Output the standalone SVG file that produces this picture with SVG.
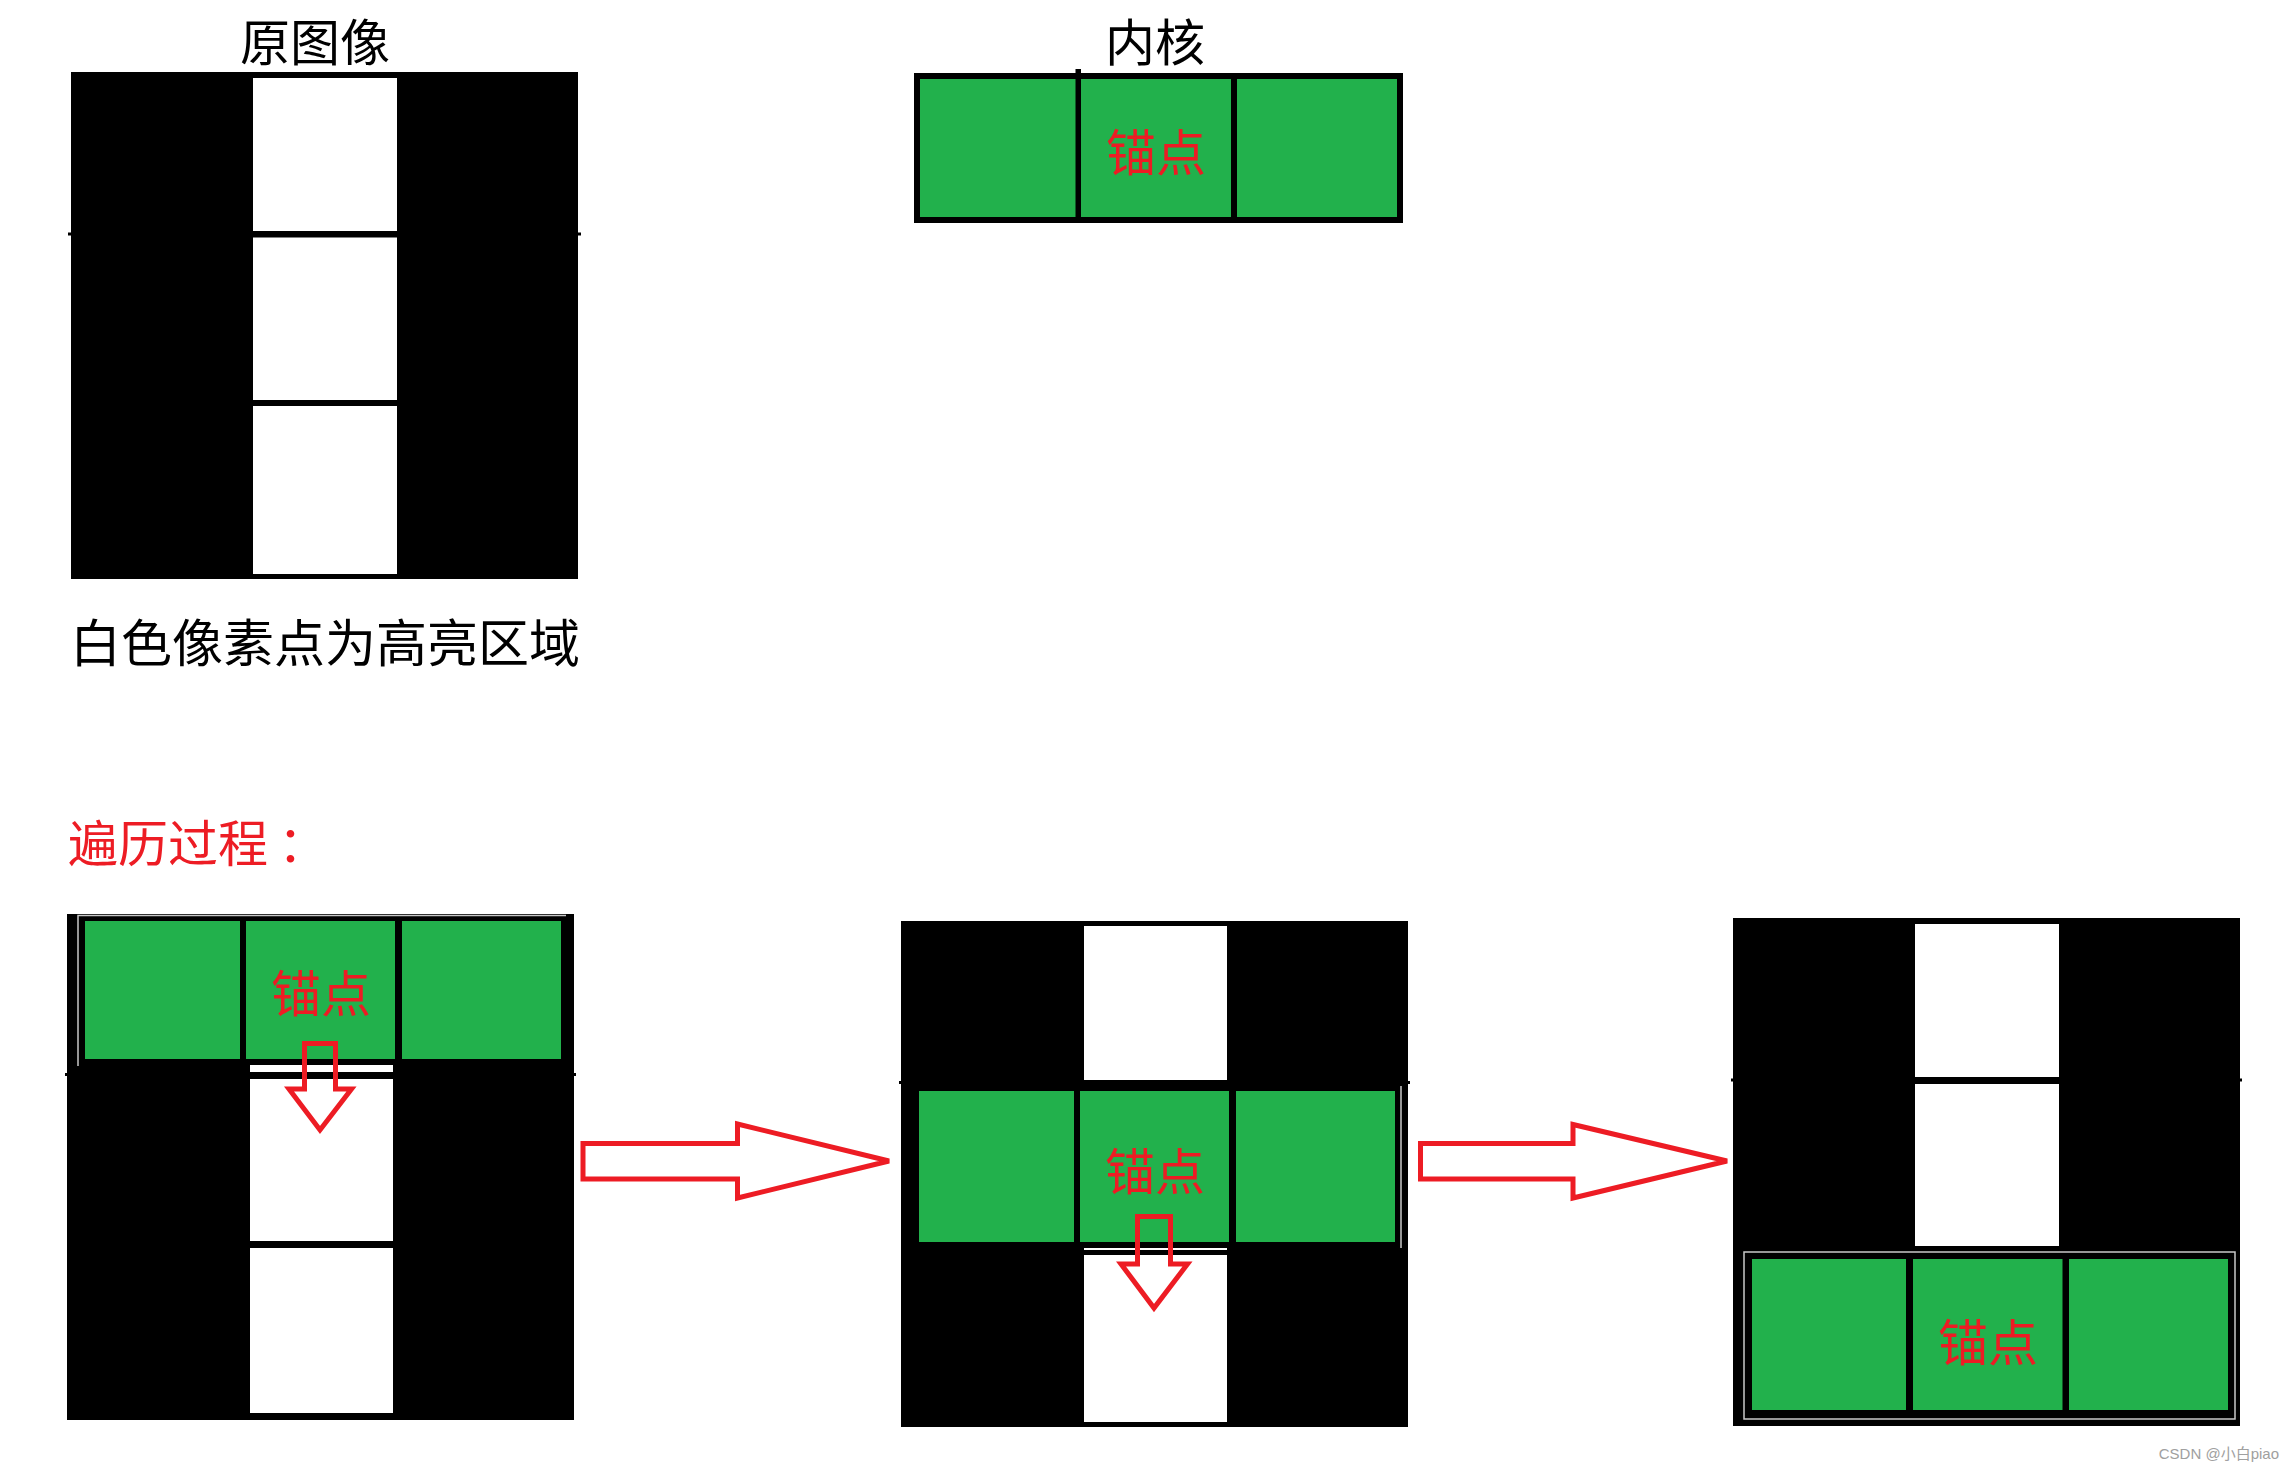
<svg xmlns="http://www.w3.org/2000/svg" width="2294" height="1472" viewBox="0 0 2294 1472">
<style>
.t{font-family:"Noto Sans CJK SC","Microsoft YaHei",sans-serif;font-size:50px;fill:#000}
.r{fill:#ed1c24}
.bk{fill:#000}
.wh{fill:#fff}
.gr{fill:#22b14c}
.arr{fill:none;stroke:#ed1c24;stroke-width:5;stroke-linejoin:miter}
.ol{fill:none;stroke:#c8c8c8;stroke-width:1.5}
</style>
<rect width="2294" height="1472" fill="#fff"/>

<g id="original-image">
<text class="t" x="315" y="61" text-anchor="middle">原图像</text>
<rect class="bk" x="71" y="72" width="507" height="507"/>
<rect class="bk" x="68" y="232.5" width="513" height="3"/>
<rect class="wh" x="253" y="78" width="144" height="153"/>
<rect class="wh" x="253" y="237.5" width="144" height="162.5"/>
<rect class="wh" x="253" y="406" width="144" height="168"/>
<text class="t" x="325" y="662" text-anchor="middle" style="font-size:51px">白色像素点为高亮区域</text>
</g>

<g id="kernel">
<text class="t" x="1155" y="61" text-anchor="middle">内核</text>
<rect class="bk" x="914" y="73" width="489" height="150"/>
<rect class="bk" x="1075.5" y="69" width="5.5" height="6"/>
<rect class="gr" x="920" y="79" width="155.5" height="138"/>
<rect class="gr" x="1081" y="79" width="150" height="138"/>
<rect class="gr" x="1237" y="79" width="160" height="138"/>
<text class="t r" x="1156" y="171" text-anchor="middle">锚点</text>
</g>

<text id="process-title" class="t r" x="68" y="862">遍历过程<tspan dx="10">：</tspan></text>

<g id="step1">
<rect class="bk" x="67" y="914" width="507" height="506"/>
<rect class="bk" x="65" y="1073" width="511" height="3"/>
<path class="ol" d="M78,1066 V915.5 H566"/>
<rect class="gr" x="85" y="921" width="155" height="138"/>
<rect class="gr" x="246" y="921" width="149" height="138"/>
<rect class="gr" x="402" y="921" width="159" height="138"/>
<rect class="wh" x="250" y="1065" width="143" height="7"/>
<rect class="wh" x="250" y="1079" width="143" height="162"/>
<rect class="wh" x="250" y="1248" width="143" height="165"/>
<text class="t r" x="321" y="1012" text-anchor="middle">锚点</text>
<polygon class="arr" points="304.5,1043.5 335.5,1043.5 335.5,1089 351.5,1089 320,1130 289,1089 304.5,1089"/>
</g>

<g id="step2">
<rect class="bk" x="901" y="921" width="507" height="506"/>
<rect class="bk" x="899" y="1081" width="511" height="3"/>
<rect class="wh" x="1084" y="926" width="143" height="154"/>
<rect class="gr" x="919" y="1091" width="155" height="151"/>
<rect class="gr" x="1080" y="1091" width="149" height="151"/>
<rect class="gr" x="1236" y="1091" width="159" height="151"/>
<path class="ol" d="M1401,1086 V1248"/>
<rect class="wh" x="1084" y="1248" width="143" height="2"/>
<rect class="wh" x="1084" y="1255" width="143" height="167"/>
<text class="t r" x="1155" y="1190" text-anchor="middle">锚点</text>
<polygon class="arr" points="1137.5,1216.5 1170.5,1216.5 1170.5,1264 1187.5,1264 1154,1308 1121,1264 1137.5,1264"/>
</g>

<g id="step3">
<rect class="bk" x="1733" y="918" width="507" height="508"/>
<rect class="bk" x="1731" y="1078.5" width="511" height="3"/>
<rect class="wh" x="1915" y="924" width="144" height="153"/>
<rect class="wh" x="1915" y="1084" width="144" height="162"/>
<rect class="ol" x="1744" y="1252" width="491" height="167"/>
<rect class="gr" x="1752" y="1259" width="154" height="151"/>
<rect class="gr" x="1913" y="1259" width="149.5" height="151"/>
<rect class="gr" x="2069" y="1259" width="159" height="151"/>
<text class="t r" x="1988" y="1361" text-anchor="middle">锚点</text>
</g>

<g id="connectors">
<polygon class="arr" points="583,1143.5 737.5,1143.5 737.5,1124 889,1161 737.5,1198 737.5,1179 583,1179"/>
<polygon class="arr" points="1420.5,1143.5 1573,1143.5 1573,1124.5 1727,1161 1573,1198 1573,1179 1420.5,1179"/>
</g>

<text x="2279" y="1459" text-anchor="end" style="font-family:'Liberation Sans','Noto Sans CJK SC',sans-serif;font-size:15px;fill:#a0a0a0">CSDN @小白piao</text>
</svg>
